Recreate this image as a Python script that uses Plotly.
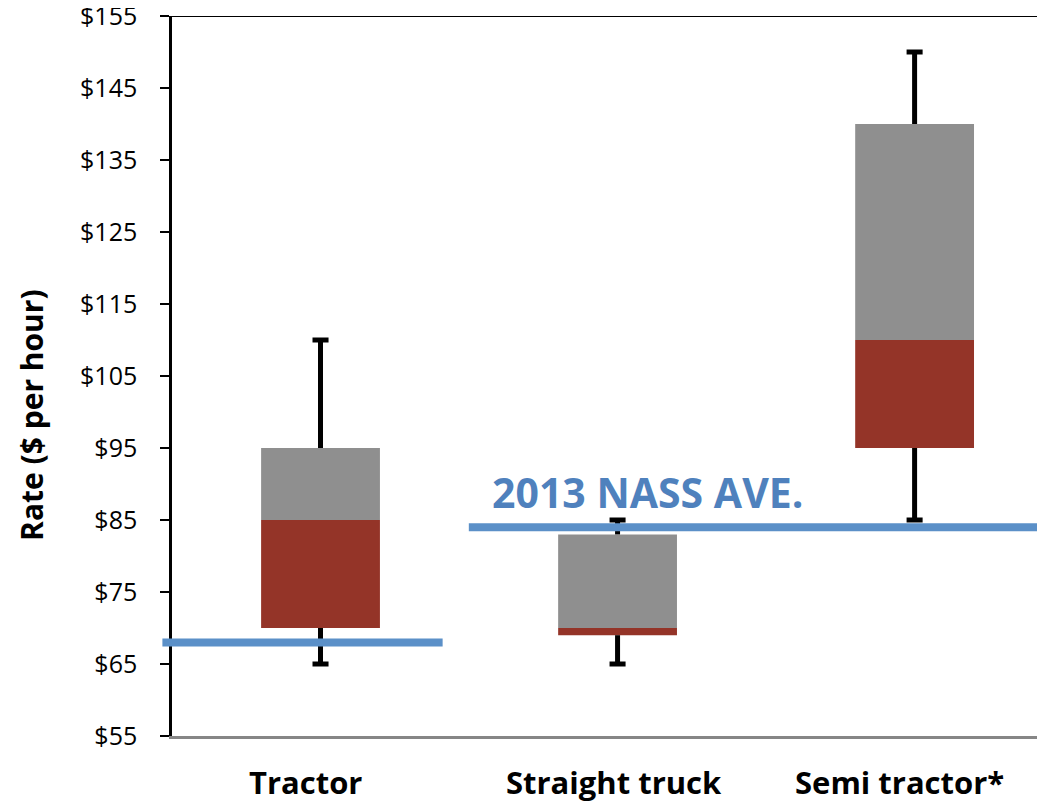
import plotly.graph_objects as go

categories = ["Tractor", "Straight truck", "Semi tractor*"]
whisker_min = [65, 65, 85]
box_low = [70, 69, 95]
box_mid = [85, 70, 110]
box_high = [95, 83, 140]
whisker_max = [110, 85, 150]

nass_tractor = 68
nass_trucks = 84
nass_label = "2013 NASS AVE."

y_ticks = list(range(55, 156, 10))
y_ticktext = [f"${v}" for v in y_ticks]

RED = "#943428"
GRAY = "#8F8F8F"
BLUE_LINE = "#5B90C8"
BLUE_TEXT = "#4F81BD"
FONT = "Open Sans"
LABEL_XSHIFT = [-15, -4, -15]  # category labels sit slightly left of centre in the original

xs = list(range(len(categories)))
fig = go.Figure()

fig.add_trace(go.Bar(
    x=xs, y=[m - l for m, l in zip(box_mid, box_low)], base=box_low,
    width=0.4, marker=dict(color=RED, line=dict(width=0)), showlegend=False,
))
fig.add_trace(go.Bar(
    x=xs, y=[h - m for h, m in zip(box_high, box_mid)], base=box_mid,
    width=0.4, marker=dict(color=GRAY, line=dict(width=0)), showlegend=False,
))

cap = 0.027
wx, wy = [], []
for i in xs:
    # upper whisker
    wx += [i, i, None, i - cap, i + cap, None]
    wy += [box_high[i], whisker_max[i], None, whisker_max[i], whisker_max[i], None]
    # lower whisker
    wx += [i, i, None, i - cap, i + cap, None]
    wy += [box_low[i], whisker_min[i], None, whisker_min[i], whisker_min[i], None]
fig.add_trace(go.Scatter(x=wx, y=wy, mode="lines",
                         line=dict(color="black", width=5), showlegend=False,
                         hoverinfo="skip"))

annotations = [
    dict(text=nass_label, xref="paper", yref="y", x=0.364, y=88.9,
         xanchor="left", yanchor="middle", showarrow=False,
         font=dict(size=41, color=BLUE_TEXT, family=FONT, weight="bold")),
    dict(text="Rate ($ per hour)", xref="paper", yref="paper", x=0, y=0.446,
         xshift=-140, xanchor="center", yanchor="middle", textangle=-90,
         showarrow=False,
         font=dict(size=30, color="black", family=FONT, weight="bold")),
]
for i, cat in enumerate(categories):
    annotations.append(dict(
        text=cat, xref="x", yref="paper", x=i, y=0, xshift=LABEL_XSHIFT[i],
        yshift=-46, xanchor="center", yanchor="middle", showarrow=False,
        font=dict(size=31, color="black", family=FONT, weight="bold")))

# page body has an 8px margin, so the figure is 8px smaller and margins shifted
fig.update_layout(
    width=1037, height=796,
    margin=dict(l=164, r=0, t=8, b=68),
    paper_bgcolor="white", plot_bgcolor="white",
    barmode="overlay",
    font=dict(family=FONT, color="black"),
    xaxis=dict(
        range=[-0.5, 2.439], tickvals=xs, showticklabels=False,
        showgrid=False, zeroline=False, ticks="", automargin=False,
        showline=True, linecolor="#868686", linewidth=2.5,
    ),
    yaxis=dict(
        range=[55, 155], tickvals=y_ticks, ticktext=y_ticktext,
        showgrid=False, zeroline=False, automargin=False,
        ticks="outside", ticklen=9, tickwidth=2, tickcolor="black",
        showline=True, linecolor="black", linewidth=2.5,
        tickfont=dict(size=25, family=FONT, color="black"),
        ticklabelstandoff=18, ticklabeloverflow="allow",
    ),
    shapes=[
        dict(type="line", xref="paper", yref="y", x0=-0.011, x1=1,
             y0=155, y1=155, line=dict(color="black", width=2)),
        dict(type="line", xref="paper", yref="y", x0=-0.011, x1=0.31,
             y0=nass_tractor, y1=nass_tractor, line=dict(color=BLUE_LINE, width=8)),
        dict(type="line", xref="paper", yref="y", x0=0.340, x1=1,
             y0=nass_trucks, y1=nass_trucks, line=dict(color=BLUE_LINE, width=8)),
    ],
    annotations=annotations,
)

fig.write_html("out.html")
